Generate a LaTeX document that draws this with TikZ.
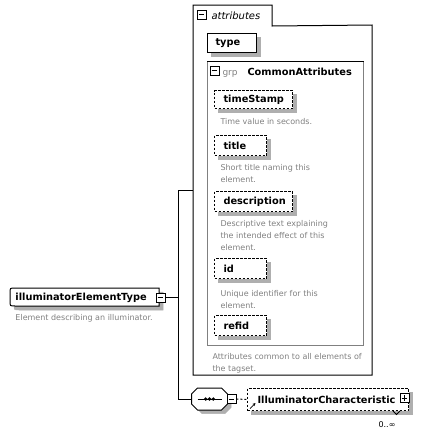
\documentclass[tikz,border=0pt]{standalone}
\usepackage{fontspec}
\setmainfont{DejaVu Sans}
\usetikzlibrary{calc,arrows.meta}
\definecolor{shadowgray}{RGB}{175,175,175}
\definecolor{descgray}{RGB}{128,128,128}
\begin{document}
\begin{tikzpicture}[x=1pt,y=-1pt,line width=1pt,
  lbl/.style={font=\fontsize{9.8}{12}\selectfont\bfseries},
  desc/.style={font=\fontsize{8}{12}\selectfont, text=descgray, align=left, anchor=north west, inner sep=0pt},
  elembox/.style={draw, fill=white, lbl, anchor=north west, inner xsep=9pt, inner ysep=0pt, align=left},
  optbox/.style={elembox, dash pattern=on 2.5pt off 1.5pt},
  btn/.style={draw, fill=white, minimum size=9pt, inner sep=0pt, line width=0.8pt},
  sign/.style={line width=0.8pt},
  shadowfill/.style={fill=shadowgray, draw=shadowgray, line width=0.5pt},
]
\useasboundingbox (0,0) rectangle (429,437);

% ---------- shadows (drawn first, behind the boxes) ----------
\filldraw[shadowfill] (211,37) rectangle (260,56);
\filldraw[shadowfill] (218,94) rectangle (296,112);
\filldraw[shadowfill] (218,139) rectangle (270,159);
\filldraw[shadowfill] (218,195) rectangle (296,215);
\filldraw[shadowfill] (218,262) rectangle (270,282);
\filldraw[shadowfill] (218,319) rectangle (270,339);
\filldraw[shadowfill] (251,392) rectangle (412,414);
\filldraw[shadowfill] (163,292) -- (19,292) .. controls (14,292) .. (14,297)
   -- (14,305) .. controls (14,310) .. (19,310) -- (163,310) -- cycle;
\filldraw[shadowfill] (202,392.5) -- (225,392.5) -- (231,398.5) -- (231,407.5) -- (225,413.5) -- (202,413.5)
   -- (196,407.5) -- (196,398.5) -- cycle;

% ---------- attributes container ----------
\node[anchor=north west, minimum width=78pt, minimum height=20pt, inner sep=0pt] (attrtab) at (193,5) {};
\node[anchor=north west, minimum width=178pt, minimum height=349pt, inner sep=0pt] (attrbox) at (193,25) {};
\draw (attrtab.north west) -- (attrtab.north east) -- (attrtab.south east) -- (attrbox.north east)
      -- (attrbox.south east) -- (attrbox.south west) -- cycle;
\node[btn] (attrbtn) at (201.5,14.5) {};
\draw[sign] ($(attrbtn.west)+(2,0)$) -- ($(attrbtn.east)+(-2,0)$);
\node[anchor=base west, inner sep=0pt, font=\fontsize{10}{12}\selectfont\itshape] (attrlbl) at (211,19) {attributes};

\node[elembox, inner xsep=8pt, text width=33pt, minimum height=19pt] (type) at (207,33) {type};

% ---------- attribute group ----------
\node[draw=descgray, anchor=north west, minimum width=156pt, minimum height=284pt, inner sep=0pt] (grp) at (207,61) {};
\draw (grp.north west) -- (grp.north east);
\node[btn] (grpbtn) at (214.5,70.5) {};
\draw[sign] ($(grpbtn.west)+(2,0)$) -- ($(grpbtn.east)+(-2,0)$);
\node[anchor=base west, inner sep=0pt, text=descgray, font=\fontsize{9}{12}\selectfont] (grplbl) at (222,75) {grp};
\node[anchor=base west, inner sep=0pt, lbl] (grpname) at (247,75) {CommonAttributes};

\node[optbox, text width=60pt, minimum height=18pt] (ts) at (214,90) {timeStamp};
\node[desc] (tsdesc) at (220,118) {Time value in seconds.};

\node[optbox, text width=34pt, minimum height=20pt] (title) at (214,135) {title};
\node[desc] (titledesc) at (220,164) {Short title naming this\\element.};

\node[optbox, text width=60pt, minimum height=20pt] (descr) at (214,191) {description};
\node[desc] (descrdesc) at (220,220) {Descriptive text explaining\\the intended effect of this\\element.};

\node[optbox, text width=34pt, minimum height=20pt] (id) at (214,258) {id};
\node[desc] (iddesc) at (220,290) {Unique identifier for this\\element.};

\node[optbox, text width=34pt, minimum height=20pt] (refid) at (214,315) {refid};

\node[desc] (grpdesc) at (212,353) {Attributes common to all elements of\\the tagset.};

% ---------- root element ----------
\draw[fill=white] (159,288) -- (15,288) .. controls (10,288) .. (10,293)
   -- (10,301) .. controls (10,306) .. (15,306) -- (159,306) -- cycle;
\node[lbl, anchor=north west, inner xsep=5pt, inner ysep=0pt, text width=139pt, minimum height=18pt, align=left] (iet) at (10,288) {illuminatorElementType};
\node[btn] (ietbtn) at ($(iet.east)+(0.5,0)$) {};
\draw[sign] ($(ietbtn.west)+(2,0)$) -- ($(ietbtn.east)+(-2,0)$);
\node[desc] (ietdesc) at (15,314) {Element describing an illuminator.};

% ---------- sequence ----------
\node[minimum width=35pt, minimum height=21pt, inner sep=0pt] (seq) at (209.5,399) {};
\draw[fill=white]
    ($(seq.north west)+(6,0)$) -- ($(seq.north east)+(-6,0)$) -- ($(seq.north east)+(0,6)$) -- ($(seq.south east)+(0,-6)$)
    -- ($(seq.south east)+(-6,0)$) -- ($(seq.south west)+(6,0)$) -- ($(seq.south west)+(0,-6)$) -- ($(seq.north west)+(0,6)$) -- cycle;
\draw ($(seq.west)+(6,0)$) -- ($(seq.east)+(-6,0)$);
\fill ($(seq.center)+(-3.8,0)$) circle (1.8pt) (seq.center) circle (1.8pt) ($(seq.center)+(3.8,0)$) circle (1.8pt);
\node[btn] (seqbtn) at (231.5,399) {};
\draw[sign] ($(seqbtn.west)+(2,0)$) -- ($(seqbtn.east)+(-2,0)$);

% ---------- child element ----------
\node[optbox, inner xsep=10pt, text width=141pt, minimum height=22pt] (ic) at (247,388) {IlluminatorCharacteristic};
\node[btn] (icbtn) at ($(ic.east)+(-4.5,-1.5)$) {};
\draw[sign] ($(icbtn.west)+(2,0)$) -- ($(icbtn.east)+(-2,0)$) ($(icbtn.north)+(0,2)$) -- ($(icbtn.south)+(0,-2)$);
\draw[line width=0.7pt, -{Stealth[length=3pt,width=3pt]}] ($(ic.south west)+(3,-2.5)$) -- ++(5.5,-5.5);
\draw[line width=0.8pt] ($(ic.south east)+(-16,0)$) -- ++(3.5,3.5) -- ++(3.5,-3.5);
\node[anchor=base, inner sep=0pt, font=\fontsize{8}{10}\selectfont] (mult) at ($(ic.south east)+(-22,16)$) {0..∞};

% ---------- connectors ----------
\draw (ietbtn.east) -- ++(13,0) coordinate (spine);
\coordinate (attrin) at ($(attrbox.north west)+(0,165)$);
\draw (attrin) -| (spine) |- (seq.west);
\draw[dash pattern=on 2pt off 2pt] (seqbtn.east) -- (ic.west);
\end{tikzpicture}
\end{document}
